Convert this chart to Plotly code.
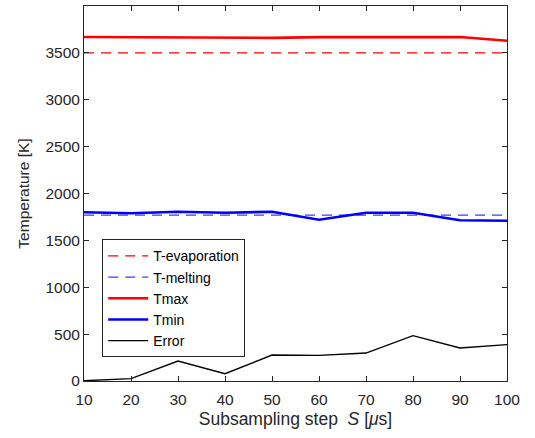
import plotly.graph_objects as go

# Subsampling step in microseconds
steps = [10, 20, 30, 40, 50, 60, 70, 80, 90, 100]

# Reference temperatures [K]
t_evaporation = 3500
t_melting = 1770

# Measured extremes and error [K]
t_max = [3670, 3668, 3670, 3668, 3660, 3668, 3670, 3668, 3670, 3630]
t_min = [1800, 1790, 1805, 1795, 1805, 1720, 1795, 1795, 1715, 1710]
error = [3, 25, 213, 78, 277, 273, 298, 484, 352, 388]

x_ticks = [10, 20, 30, 40, 50, 60, 70, 80, 90, 100]
y_ticks = [0, 500, 1000, 1500, 2000, 2500, 3000, 3500, 4000]

axis_col = "#262626"
font_family = "Liberation Sans, Arial, sans-serif"

fig = go.Figure()
fig.add_trace(go.Scatter(
    x=steps, y=[t_evaporation] * len(steps), mode="lines", name="T-evaporation",
    line=dict(color="#ff0000", width=1.2, dash="10px,7px")))
fig.add_trace(go.Scatter(
    x=steps, y=[t_melting] * len(steps), mode="lines", name="T-melting",
    line=dict(color="#3c3cff", width=1.2, dash="10px,7px")))
fig.add_trace(go.Scatter(
    x=steps, y=t_max, mode="lines", name="Tmax",
    line=dict(color="#ff0000", width=2.6)))
fig.add_trace(go.Scatter(
    x=steps, y=t_min, mode="lines", name="Tmin",
    line=dict(color="#0000ff", width=2.6)))
fig.add_trace(go.Scatter(
    x=steps, y=error, mode="lines", name="Error",
    line=dict(color="#000000", width=1.4)))

axis_common = dict(
    showgrid=False, zeroline=False, showline=True, linecolor=axis_col, linewidth=1,
    mirror="ticks", ticks="inside", ticklen=5, tickcolor=axis_col, tickwidth=1,
    tickfont=dict(family=font_family, size=15.5, color=axis_col),
)

fig.update_layout(
    width=535, height=438,
    margin=dict(l=84, r=28, t=6, b=57),
    paper_bgcolor="white", plot_bgcolor="white",
    font=dict(family=font_family, size=15, color=axis_col),
    xaxis=dict(range=[10, 100], tickvals=x_ticks, ticklabelstandoff=4,
               title=dict(text="Subsampling step&nbsp;&nbsp;<i>S</i> [<i>μ</i>s]",
                          font=dict(size=17.5, color=axis_col), standoff=6),
               **axis_common),
    yaxis=dict(range=[0, 4000], tickvals=y_ticks,
               title=dict(text="Temperature [K]", font=dict(size=15.5, color=axis_col), standoff=11),
               **axis_common),
    legend=dict(
        x=0.043, y=0.378, xanchor="left", yanchor="top",
        bgcolor="white", bordercolor=axis_col, borderwidth=1,
        font=dict(family=font_family, size=14, color="#000000"),
        tracegroupgap=0, itemwidth=40, entrywidth=100,
    ),
    showlegend=True,
)

fig.write_html("out.html")
